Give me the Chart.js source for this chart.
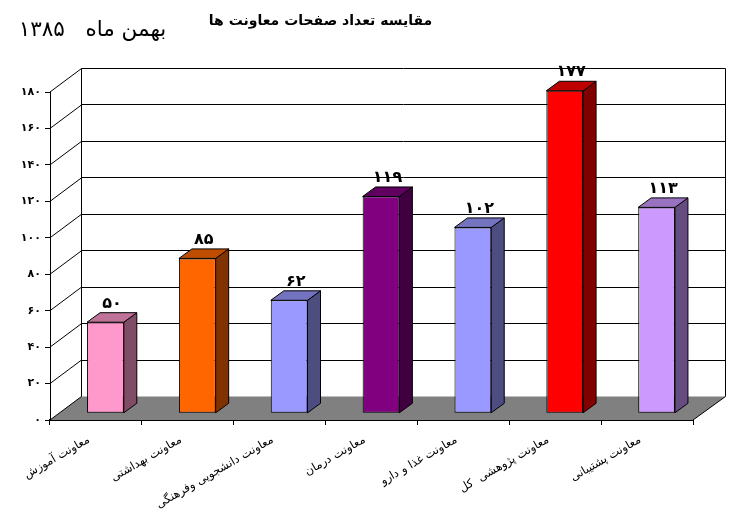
<!DOCTYPE html>
<html lang="fa">
<head>
<meta charset="utf-8">
<style>html,body{margin:0;padding:0;background:#fff}canvas{display:block}</style>
<script src="https://cdn.jsdelivr.net/npm/chart.js@4"></script>
</head>
<body>
<canvas id="c" width="736" height="514"></canvas>
<script>
const categories = ['معاونت آموزش','معاونت بهداشتی','معاونت دانشجویی وفرهنگی','معاونت درمان','معاونت غذا و دارو','معاونت پژوهشی  کل','معاونت پشتیبانی'];
const values = [50, 85, 62, 119, 102, 177, 113];
const valueLabels = ['۵۰','۸۵','۶۲','۱۱۹','۱۰۲','۱۷۷','۱۱۳'];
const yTickLabels = ['۰','۲۰','۴۰','۶۰','۸۰','۱۰۰','۱۲۰','۱۴۰','۱۶۰','۱۸۰'];
const barColors = ['#FF99CC','#FF6600','#9999FF','#800080','#9999FF','#FF0000','#CC99FF'];
const titleText = 'مقایسه تعداد صفحات معاونت ها';
const subtitleText = 'بهمن ماه   ۱۳۸۵';

const FONT = '"DejaVu Sans"';
const WALL = {dy: -23.5, left: 31.5, right: 32.5};
const BAR = {dx: 9.5, dy: -6.7, depthX: 13, depthY: -9.5};

function shade(hex, f) {
  const n = parseInt(hex.slice(1), 16);
  const c = [n >> 16, (n >> 8) & 255, n & 255].map(v => Math.round(v * f));
  return `rgb(${c[0]},${c[1]},${c[2]})`;
}
function poly(ctx, pts, fill, stroke, lw) {
  ctx.beginPath();
  pts.forEach((p, i) => i ? ctx.lineTo(p[0], p[1]) : ctx.moveTo(p[0], p[1]));
  ctx.closePath();
  if (fill) { ctx.fillStyle = fill; ctx.fill(); }
  if (stroke) { ctx.strokeStyle = stroke; ctx.lineWidth = lw || 1; ctx.stroke(); }
}
function line(ctx, x1, y1, x2, y2, lw) {
  ctx.beginPath(); ctx.moveTo(x1, y1); ctx.lineTo(x2, y2);
  ctx.strokeStyle = '#000'; ctx.lineWidth = lw || 1; ctx.stroke();
}

const pseudo3d = {
  id: 'pseudo3d',
  afterLayout(chart) {
    chart.titleBlock.left -= 26;
    chart.titleBlock.right -= 26;
  },
  beforeDatasetsDraw(chart) {
    const {ctx, chartArea: a, scales: {y}} = chart;
    const b0 = y.getPixelForValue(0);
    const xl = a.left + WALL.left, xr = a.right + WALL.right;
    // floor
    poly(ctx, [[a.left, b0],[xl, b0 + WALL.dy],[xr, b0 + WALL.dy],[a.right, b0]], '#808080');
    // back wall and gridlines
    y.ticks.forEach(t => {
      const py = y.getPixelForValue(t.value);
      const by = Math.floor(py + WALL.dy) + .5;
      if (t.value > 0) line(ctx, xl, by, xr, by, 1);
      line(ctx, a.left, py, xl, py + WALL.dy, 1);
    });
    const top = y.getPixelForValue(y.max);
    line(ctx, xl, top + WALL.dy, xl, b0 + WALL.dy, 1);
    line(ctx, xr, top + WALL.dy, xr, b0 + WALL.dy, 1);
    line(ctx, a.right, b0, xr, b0 + WALL.dy, 1);
    // bar sides and tops
    ctx.save();
    ctx.translate(BAR.dx, BAR.dy);
    chart.getDatasetMeta(0).data.forEach((el, i) => {
      const l = el.x - el.width / 2, r = el.x + el.width / 2, t = el.y, b = el.base;
      const col = barColors[i];
      poly(ctx, [[r, t],[r + BAR.depthX, t + BAR.depthY],[r + BAR.depthX, b + BAR.depthY],[r, b]], shade(col, .5), '#000', 1);
      poly(ctx, [[l, t],[l + BAR.depthX, t + BAR.depthY],[r + BAR.depthX, t + BAR.depthY],[r, t]], shade(col, .75), '#000', 1);
    });
  },
  afterDatasetsDraw(chart) {
    const {ctx} = chart;
    chart.getDatasetMeta(0).data.forEach((el, i) => {
      ctx.fillStyle = '#000';
      ctx.font = 'bold 16px ' + FONT;
      ctx.textAlign = 'center';
      ctx.textBaseline = 'alphabetic';
      ctx.fillText(valueLabels[i], el.x + BAR.depthX / 2, el.y + BAR.depthY - 5);
    });
    ctx.restore();
    ctx.save();
    ctx.fillStyle = '#000';
    ctx.font = '21.5px ' + FONT;
    ctx.textAlign = 'center';
    ctx.textBaseline = 'middle';
    ctx.fillText(subtitleText, 92.5, 30);
    ctx.restore();
  }
};

new Chart(document.getElementById('c'), {
  type: 'bar',
  data: {
    labels: categories,
    datasets: [{
      data: values,
      backgroundColor: barColors,
      borderColor: '#000',
      borderWidth: 1,
      borderSkipped: false,
      barPercentage: 0.4,
      categoryPercentage: 1
    }]
  },
  options: {
    responsive: false,
    animation: false,
    events: [],
    layout: {padding: {right: 43}},
    plugins: {
      legend: {display: false},
      tooltip: {enabled: false},
      title: {
        display: true,
        text: titleText,
        color: '#000',
        font: {family: FONT, size: 14, weight: 'bold'},
        padding: {top: 13, bottom: 62.2}
      }
    },
    scales: {
      x: {
        grid: {drawOnChartArea: false, color: '#000', tickLength: 5, lineWidth: 1},
        border: {color: '#000', width: 2},
        ticks: {
          color: '#000', autoSkip: false, minRotation: 30, maxRotation: 30, padding: 8, labelOffset: -7,
          font: {family: FONT, size: 11.5}
        },
        afterFit(s) { s.height = 94; s.paddingLeft = 0; s.paddingRight = 0; }
      },
      y: {
        min: 0, max: 180,
        grid: {drawOnChartArea: false, color: '#000', tickLength: 5, lineWidth: 1},
        border: {color: '#000', width: 1},
        ticks: {
          stepSize: 20, color: '#000', padding: 4,
          font: {family: FONT, size: 11, weight: 'bold'},
          callback: (v, i) => yTickLabels[i]
        },
        afterFit(s) { s.width = 50; }
      }
    }
  },
  plugins: [pseudo3d]
});
</script>
</body>
</html>
